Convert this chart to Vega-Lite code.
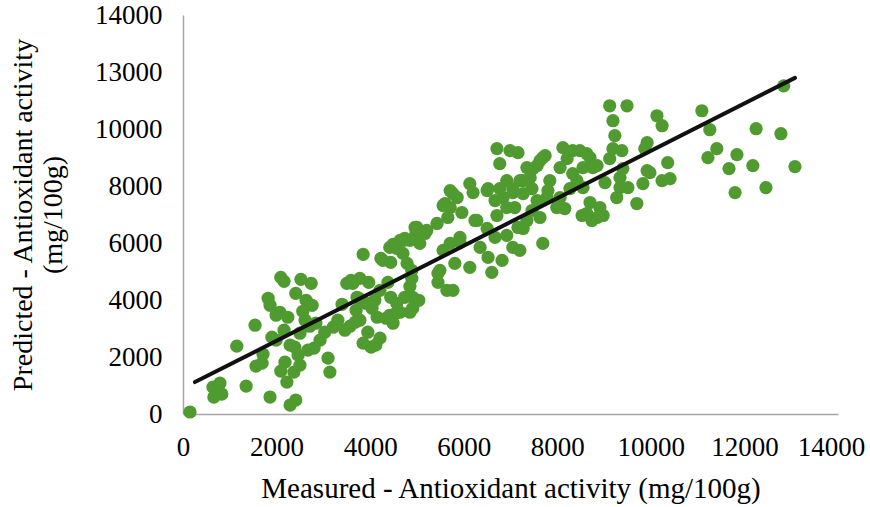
{
  "$schema": "https://vega.github.io/schema/vega-lite/v6.json",
  "width": 655,
  "height": 399,
  "autosize": {"type": "none"},
  "padding": {"left": 183, "top": 15, "right": 32, "bottom": 93},
  "background": "white",
  "config": {
    "view": {"stroke": null},
    "font": "Liberation Serif",
    "axis": {
      "grid": false,
      "ticks": false,
      "domainColor": "#a6a6a6",
      "domainWidth": 1.5,
      "labelFont": "Liberation Serif",
      "labelFontSize": 27,
      "labelColor": "#000000",
      "labelOverlap": false,
      "labelFlush": false,
      "titleFont": "Liberation Serif",
      "titleFontSize": 28,
      "titleFontWeight": "normal",
      "titleColor": "#000000"
    }
  },
  "datasets": {
    "pts": [
      {"m":150,"p":70},{"m":640,"p":945},{"m":790,"p":1085},{"m":660,"p":595},{"m":830,"p":700},
      {"m":1150,"p":2380},{"m":1350,"p":980},{"m":1540,"p":3115},{"m":1560,"p":1680},{"m":1690,"p":1785},
      {"m":1820,"p":4060},{"m":1860,"p":3815},{"m":1710,"p":2100},{"m":1860,"p":595},{"m":1900,"p":2695},
      {"m":1990,"p":2590},{"m":1990,"p":3465},{"m":2070,"p":3570},{"m":2090,"p":4795},{"m":2160,"p":4655},
      {"m":2160,"p":2940},{"m":2240,"p":3395},{"m":2290,"p":2415},{"m":2180,"p":1820},{"m":2090,"p":1505},
      {"m":2220,"p":1120},{"m":2290,"p":315},{"m":2410,"p":490},{"m":2370,"p":1470},{"m":2460,"p":2065},
      {"m":2500,"p":2835},{"m":2560,"p":3605},{"m":2520,"p":4725},{"m":2410,"p":4235},{"m":2630,"p":3990},
      {"m":2740,"p":4585},{"m":2760,"p":3815},{"m":2610,"p":3290},{"m":2710,"p":3080},{"m":2840,"p":3185},
      {"m":2930,"p":2590},{"m":2800,"p":2310},{"m":2670,"p":2240},{"m":2500,"p":1715},{"m":2390,"p":2345},
      {"m":3100,"p":1960},{"m":3140,"p":1470},{"m":3030,"p":2870},{"m":3210,"p":3045},{"m":3310,"p":3290},
      {"m":3400,"p":3850},{"m":3460,"p":2940},{"m":3570,"p":3080},{"m":3680,"p":3220},{"m":3500,"p":4585},
      {"m":3590,"p":4690},{"m":3760,"p":4060},{"m":3850,"p":5600},{"m":3700,"p":3640},{"m":3780,"p":3290},
      {"m":3850,"p":2485},{"m":3950,"p":2870},{"m":4020,"p":2345},{"m":4120,"p":2415},{"m":4210,"p":2660},
      {"m":4040,"p":3710},{"m":4100,"p":3990},{"m":4210,"p":4340},{"m":3970,"p":4620},{"m":3910,"p":3885},
      {"m":4340,"p":3360},{"m":4440,"p":4095},{"m":4380,"p":4620},{"m":4440,"p":5320},{"m":4230,"p":5460},
      {"m":4490,"p":5950},{"m":4570,"p":5810},{"m":4640,"p":3570},{"m":4550,"p":3535},{"m":4740,"p":4095},
      {"m":4850,"p":4480},{"m":4890,"p":5040},{"m":4720,"p":6090},{"m":4850,"p":6090},{"m":4980,"p":6335},
      {"m":5060,"p":5985},{"m":4910,"p":3710},{"m":5040,"p":3990},{"m":3780,"p":4760},{"m":3630,"p":4585},
      {"m":3720,"p":4095},{"m":4000,"p":3885},{"m":4150,"p":3395},{"m":4490,"p":3185},{"m":4420,"p":3465},
      {"m":4850,"p":3570},{"m":4910,"p":4095},{"m":4570,"p":3885},{"m":4790,"p":5285},{"m":4270,"p":5390},
      {"m":4420,"p":5845},{"m":4640,"p":6090},{"m":5000,"p":6545},{"m":5210,"p":6440},{"m":5430,"p":6685},
      {"m":5600,"p":7385},{"m":5710,"p":7245},{"m":5860,"p":7595},{"m":5710,"p":7840},{"m":6130,"p":8085},
      {"m":6200,"p":7770},{"m":6500,"p":7840},{"m":6280,"p":6790},{"m":5920,"p":6195},{"m":5710,"p":5985},
      {"m":5560,"p":5740},{"m":5490,"p":5040},{"m":5640,"p":4340},{"m":5770,"p":4340},{"m":5450,"p":4620},
      {"m":4960,"p":6545},{"m":5170,"p":6335},{"m":4740,"p":6160},{"m":4700,"p":5635},{"m":4890,"p":4760},
      {"m":5450,"p":4935},{"m":5810,"p":5285},{"m":5920,"p":6020},{"m":6130,"p":5145},{"m":6240,"p":6790},
      {"m":6350,"p":5845},{"m":6520,"p":5495},{"m":6600,"p":4970},{"m":6820,"p":5390},{"m":6920,"p":6265},
      {"m":6670,"p":6195},{"m":6500,"p":6510},{"m":6710,"p":6965},{"m":6920,"p":7245},{"m":7090,"p":7245},
      {"m":7160,"p":6545},{"m":7270,"p":6510},{"m":7350,"p":6790},{"m":7460,"p":7140},{"m":7570,"p":7490},
      {"m":7630,"p":6895},{"m":7690,"p":5985},{"m":7050,"p":5845},{"m":7200,"p":5740},{"m":7800,"p":7840},
      {"m":8060,"p":7595},{"m":5770,"p":7735},{"m":5560,"p":7315},{"m":5960,"p":7070},{"m":5660,"p":6895},
      {"m":6770,"p":7910},{"m":7050,"p":7910},{"m":7270,"p":8190},{"m":7350,"p":8645},{"m":7480,"p":8610},
      {"m":7630,"p":8890},{"m":7740,"p":9065},{"m":7160,"p":9170},{"m":6990,"p":9240},{"m":6710,"p":9310},
      {"m":6770,"p":8785},{"m":6920,"p":8190},{"m":6670,"p":7490},{"m":6520,"p":7910},{"m":6840,"p":7595},
      {"m":7050,"p":7770},{"m":7270,"p":7735},{"m":7460,"p":7910},{"m":7200,"p":8190},{"m":7420,"p":8295},
      {"m":7570,"p":8715},{"m":7690,"p":8995},{"m":7840,"p":8190},{"m":8120,"p":9345},{"m":8210,"p":8960},
      {"m":8060,"p":8645},{"m":8330,"p":9240},{"m":8480,"p":9240},{"m":8630,"p":9135},{"m":8700,"p":8995},
      {"m":8550,"p":8645},{"m":8330,"p":8435},{"m":8420,"p":8190},{"m":8270,"p":7910},{"m":8160,"p":7210},
      {"m":7990,"p":7245},{"m":7780,"p":7595},{"m":8700,"p":7420},{"m":8630,"p":7035},{"m":8850,"p":6895},
      {"m":8740,"p":6790},{"m":8530,"p":6965},{"m":8910,"p":7245},{"m":8980,"p":6965},{"m":8850,"p":8715},
      {"m":8760,"p":8645},{"m":9270,"p":7595},{"m":9340,"p":8295},{"m":9510,"p":7945},{"m":9400,"p":8610},
      {"m":9120,"p":8960},{"m":9190,"p":9310},{"m":9380,"p":9240},{"m":8550,"p":7945},{"m":9020,"p":8120},
      {"m":9120,"p":10815},{"m":9490,"p":10815},{"m":9190,"p":10290},{"m":9230,"p":9765},{"m":9920,"p":9520},
      {"m":10130,"p":10465},{"m":10240,"p":10115},{"m":9870,"p":9310},{"m":10360,"p":8820},{"m":10410,"p":8260},
      {"m":10240,"p":8190},{"m":9920,"p":8540},{"m":9830,"p":8085},{"m":9980,"p":8470},{"m":9700,"p":7385},
      {"m":9340,"p":7945},{"m":11090,"p":10640},{"m":11260,"p":9975},{"m":11410,"p":9310},{"m":11220,"p":8995},
      {"m":11840,"p":9100},{"m":11670,"p":8610},{"m":12180,"p":8715},{"m":11800,"p":7770},{"m":12460,"p":7945},
      {"m":12250,"p":10010},{"m":12780,"p":9835},{"m":13080,"p":8680},{"m":12840,"p":11515}
    ],
    "fit": [
      {"m": 256, "p": 1120},
      {"m": 13080, "p": 11795}
    ]
  },
  "layer": [
    {
      "data": {"name": "pts"},
      "mark": {"type": "circle", "size": 175, "color": "#509b30", "opacity": 1},
      "encoding": {
        "x": {
          "field": "m", "type": "quantitative",
          "scale": {"domain": [0, 14000], "nice": false, "zero": true},
          "axis": {
            "values": [0, 2000, 4000, 6000, 8000, 10000, 12000, 14000],
            "format": "d",
            "labelPadding": 20,
            "titlePadding": 14,
            "titleFontSize": 29,
            "labelOffset": {"condition": {"test": "datum.value === 14000", "value": -7}, "value": 0},
            "title": "Measured - Antioxidant activity (mg/100g)"
          }
        },
        "y": {
          "field": "p", "type": "quantitative",
          "scale": {"domain": [0, 14000], "nice": false, "zero": true},
          "axis": {
            "values": [0, 2000, 4000, 6000, 8000, 10000, 12000, 14000],
            "format": "d",
            "labelExpr": "datum.value == 12000 ? '13000' : datum.label",
            "labelPadding": 21,
            "titlePadding": 27,
            "title": ["Predicted - Antioxidant activity", "(mg/100g)"]
          }
        }
      }
    },
    {
      "data": {"name": "fit"},
      "mark": {"type": "line", "color": "#111111", "strokeWidth": 4, "strokeCap": "round"},
      "encoding": {
        "x": {"field": "m", "type": "quantitative"},
        "y": {"field": "p", "type": "quantitative"}
      }
    }
  ]
}
